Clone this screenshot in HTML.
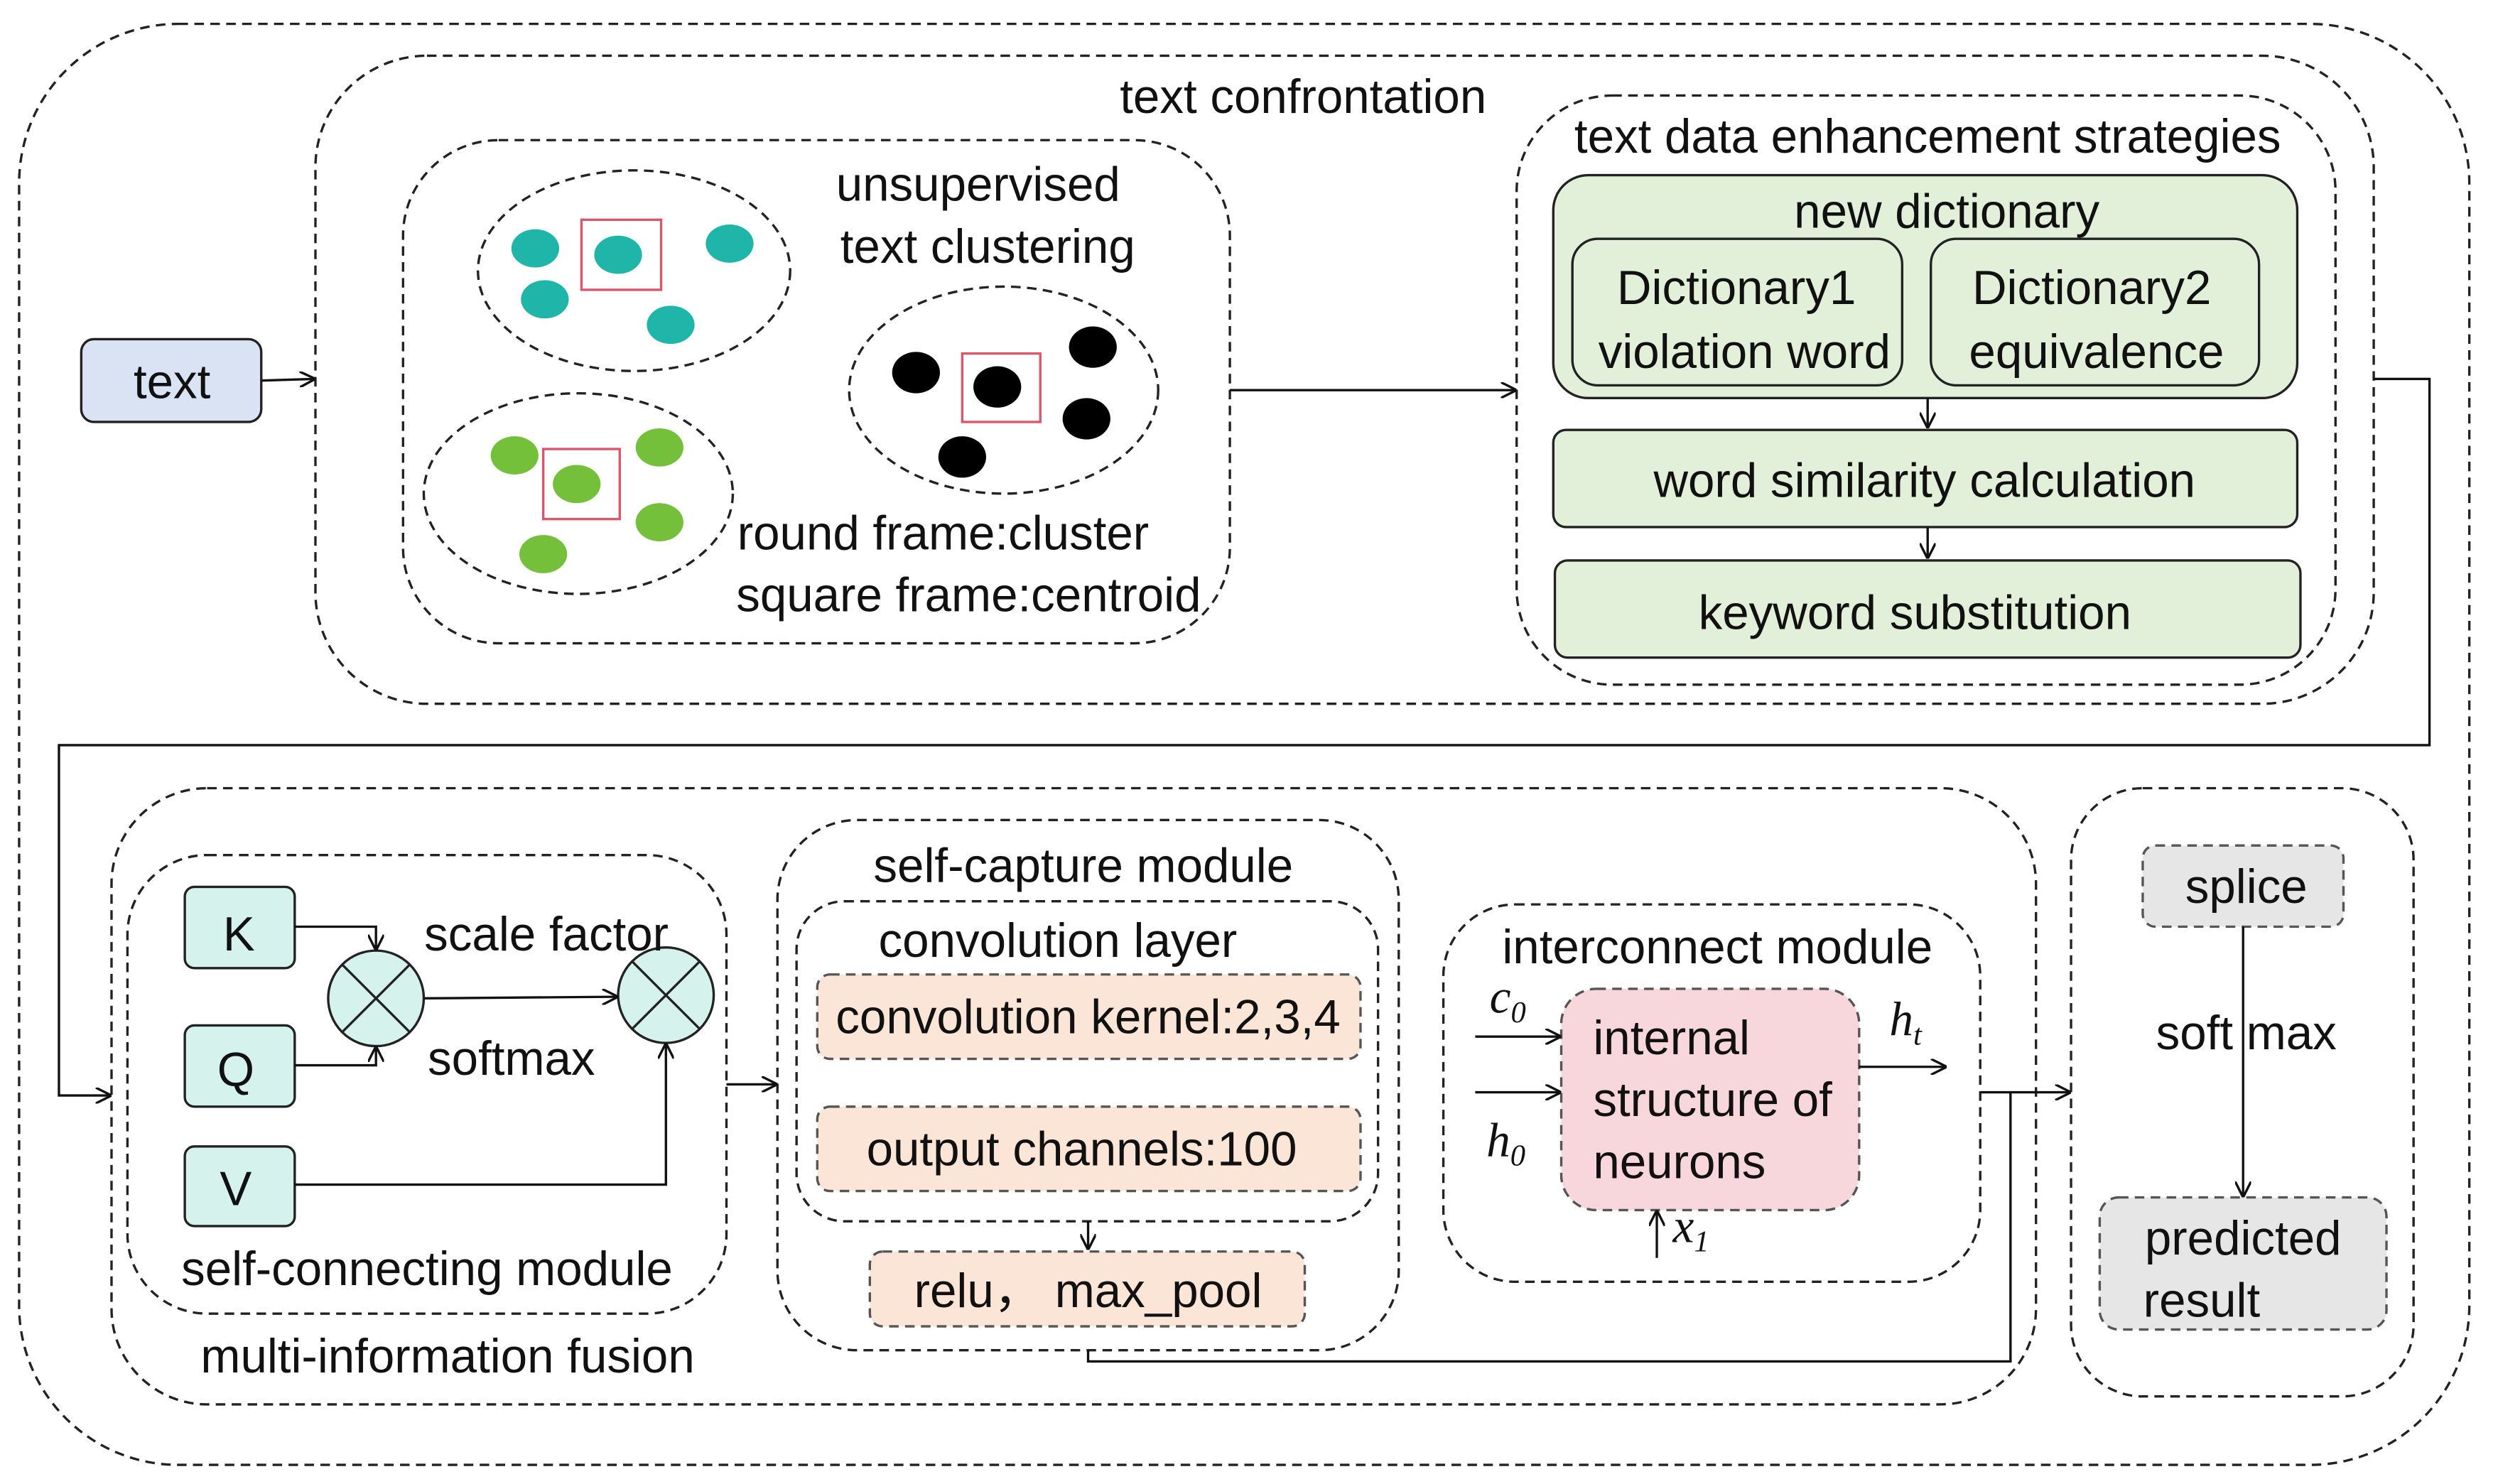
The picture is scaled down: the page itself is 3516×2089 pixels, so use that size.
<!DOCTYPE html>
<html><head><meta charset="utf-8"><style>
html,body{margin:0;padding:0;background:#fff;}
svg{display:block;}
text{font-family:"Liberation Sans",sans-serif;font-size:30px;fill:#111;}
</style></head><body>
<svg width="3516" height="2089" viewBox="0 0 1568 932" preserveAspectRatio="none" xmlns="http://www.w3.org/2000/svg">
<defs>
<marker id="a" markerWidth="10" markerHeight="10" refX="9" refY="5" orient="auto" markerUnits="userSpaceOnUse"><path d="M0,0 L10,5 L0,10" fill="none" stroke="#111" stroke-width="1.5"/></marker>
</defs>
<g fill="none" stroke="#222" stroke-width="1.5" stroke-dasharray="6,4">
<rect x="12" y="15" width="1538" height="905" rx="100"/>
<rect x="198" y="35" width="1292" height="407" rx="70"/>
<rect x="253" y="88" width="519" height="316" rx="60"/>
<ellipse cx="398" cy="170" rx="98" ry="63"/>
<ellipse cx="363" cy="310" rx="97" ry="63"/>
<ellipse cx="630" cy="245" rx="97" ry="65"/>
<rect x="952" y="60" width="514" height="370" rx="60"/>
<rect x="70" y="495" width="1208" height="387" rx="60"/>
<rect x="80" y="537" width="376" height="288" rx="50"/>
<rect x="488" y="515" width="390" height="333" rx="50"/>
<rect x="500" y="566" width="365" height="201" rx="30"/>
<rect x="906" y="568" width="337" height="237" rx="45"/>
<rect x="1300" y="495" width="215" height="382" rx="45"/>
</g>
<g fill="#1fb5a8"><ellipse cx="336" cy="156" rx="15" ry="12"/><ellipse cx="458" cy="153" rx="15" ry="12"/><ellipse cx="342" cy="188" rx="15" ry="12"/><ellipse cx="421" cy="204" rx="15" ry="12"/><ellipse cx="388" cy="160" rx="15" ry="12"/></g>
<g fill="#74c03a"><ellipse cx="323" cy="286" rx="15" ry="12"/><ellipse cx="414" cy="281" rx="15" ry="12"/><ellipse cx="414" cy="328" rx="15" ry="12"/><ellipse cx="341" cy="348" rx="15" ry="12"/><ellipse cx="362" cy="304" rx="15" ry="12"/></g>
<g fill="#000"><ellipse cx="575" cy="234" rx="15" ry="13"/><ellipse cx="686" cy="218" rx="15" ry="13"/><ellipse cx="682" cy="263" rx="15" ry="13"/><ellipse cx="604" cy="287" rx="15" ry="13"/><ellipse cx="626" cy="243" rx="15" ry="13"/></g>
<g fill="none" stroke="#d9566b" stroke-width="1.5"><rect x="365" y="138" width="50" height="44"/><rect x="341" y="282" width="48" height="44"/><rect x="604" y="222" width="49" height="43"/></g>
<g stroke="#222" stroke-width="1.5">
<rect x="51" y="213" width="113" height="52" rx="8" fill="#dae3f3"/>
<rect x="975" y="110" width="467" height="140" rx="22" fill="#e2f0d9"/>
<rect x="987" y="150" width="207" height="92" rx="16" fill="#e2f0d9"/>
<rect x="1212" y="150" width="206" height="92" rx="16" fill="#e2f0d9"/>
<rect x="975" y="270" width="467" height="61" rx="8" fill="#e2f0d9"/>
<rect x="976" y="352" width="468" height="61" rx="8" fill="#e2f0d9"/>
<rect x="116" y="557" width="69" height="51" rx="6" fill="#d5f3ec"/>
<rect x="116" y="644" width="69" height="51" rx="6" fill="#d5f3ec"/>
<rect x="116" y="720" width="69" height="50" rx="6" fill="#d5f3ec"/>
</g>
<g stroke="#555" stroke-width="1.5" stroke-dasharray="6,4">
<rect x="513" y="612" width="341" height="53" rx="8" fill="#fbe5d6"/>
<rect x="513" y="695" width="341" height="53" rx="8" fill="#fbe5d6"/>
<rect x="546" y="786" width="273" height="47" rx="8" fill="#fbe5d6"/>
<rect x="980" y="621" width="187" height="139" rx="22" fill="#f8d7dc"/>
<rect x="1345" y="531" width="126" height="51" rx="8" fill="#e7e6e6"/>
<rect x="1318" y="752" width="180" height="83" rx="12" fill="#e7e6e6"/>
</g>
<g stroke="#222" stroke-width="1.5">
<circle cx="236" cy="627" r="30" fill="#d5f3ec"/><path d="M215,606 L257,648 M257,606 L215,648"/>
<circle cx="418" cy="625" r="30" fill="#d5f3ec"/><path d="M397,604 L439,646 M439,604 L397,646"/>
</g>
<g fill="none" stroke="#111" stroke-width="1.5">
<path d="M164,239 L197,238" marker-end="url(#a)"/>
<path d="M772,245 L951,245" marker-end="url(#a)"/>
<path d="M1210,250 L1210,268" marker-end="url(#a)"/>
<path d="M1210,331 L1210,350" marker-end="url(#a)"/>
<path d="M1490,238 L1525,238 L1525,468 L37,468 L37,688 L69,688" marker-end="url(#a)"/>
<path d="M185,582 L236,582 L236,596" marker-end="url(#a)"/>
<path d="M185,669 L236,669 L236,658" marker-end="url(#a)"/>
<path d="M266,627 L387,626" marker-end="url(#a)"/>
<path d="M185,744 L418,744 L418,656" marker-end="url(#a)"/>
<path d="M456,681 L487,681" marker-end="url(#a)"/>
<path d="M683,767 L683,784" marker-end="url(#a)"/>
<path d="M683,848 L683,855 L1262,855 L1262,686"/>
<path d="M1243,686 L1299,686" marker-end="url(#a)"/>
<path d="M926,651 L979,651" marker-end="url(#a)"/>
<path d="M926,686 L979,686" marker-end="url(#a)"/>
<path d="M1167,670 L1221,670" marker-end="url(#a)"/>
<path d="M1040,790 L1040,761" marker-end="url(#a)"/>
<path d="M1408,582 L1408,751" marker-end="url(#a)"/>
</g>
<g text-anchor="middle">
<text x="818" y="71">text confrontation</text>
<text x="614" y="126">unsupervised</text>
<text x="620" y="165">text clustering</text>
<text x="592" y="345">round frame:cluster</text>
<text x="608" y="384">square frame:centroid</text>
<text x="108" y="250">text</text>
<text x="1210" y="96">text data enhancement strategies</text>
<text x="1222" y="143">new dictionary</text>
<text x="1090" y="191">Dictionary1</text>
<text x="1095" y="231">violation word</text>
<text x="1313" y="191">Dictionary2</text>
<text x="1316" y="231">equivalence</text>
<text x="1208" y="312">word similarity calculation</text>
<text x="1202" y="395">keyword substitution</text>
<text x="150" y="597">K</text>
<text x="148" y="682">Q</text>
<text x="148" y="757">V</text>
<text x="343" y="597">scale factor</text>
<text x="321" y="675">softmax</text>
<text x="268" y="807">self-connecting module</text>
<text x="281" y="862">multi-information fusion</text>
<text x="680" y="554">self-capture module</text>
<text x="664" y="601">convolution layer</text>
<text x="683" y="649">convolution kernel:2,3,4</text>
<text x="679" y="732">output channels:100</text>
<text x="683" y="821">relu，  max_pool</text>
<text x="1078" y="605">interconnect module</text>
<text x="1410" y="567">splice</text>
<text x="1410" y="659">soft max</text>
<text x="1408" y="788">predicted</text>
<text x="1382" y="827">result</text>
</g>
<text x="1000" y="662">internal</text>
<text x="1000" y="701">structure of</text>
<text x="1000" y="740">neurons</text>
<text x="935" y="636" style="font-family:'Liberation Serif',serif;font-style:italic">c<tspan font-size="19" dy="6">0</tspan></text>
<text x="933" y="726" style="font-family:'Liberation Serif',serif;font-style:italic">h<tspan font-size="19" dy="6">0</tspan></text>
<text x="1186" y="650" style="font-family:'Liberation Serif',serif;font-style:italic">h<tspan font-size="19" dy="6">t</tspan></text>
<text x="1050" y="780" style="font-family:'Liberation Serif',serif;font-style:italic">x<tspan font-size="19" dy="6">1</tspan></text>
</svg>
</body></html>
